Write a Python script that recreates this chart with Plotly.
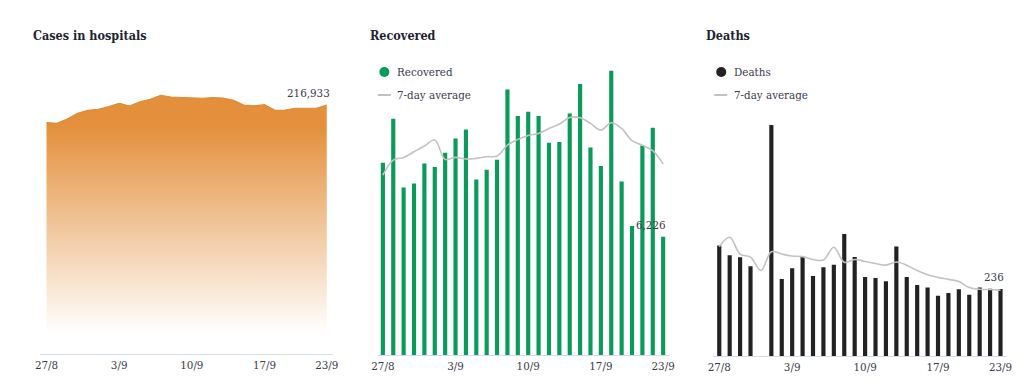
import plotly.graph_objects as go

# ---------------- data ----------------
dates = ["27/8", "28/8", "29/8", "30/8", "31/8"] + [f"{d}/9" for d in range(1, 24)]
tick_labels = ["27/8", "3/9", "10/9", "17/9", "23/9"]

hospital = [201548, 201006, 204760, 209700, 212300, 213200, 215500, 218400, 216100,
            219800, 221900, 225400, 223900, 223600, 223600, 222800, 223300, 223000,
            221000, 216900, 216100, 217200, 212300, 212600, 214100, 214300, 214100, 216933]

recovered = [10109, 12418, 8815, 9025, 10074, 9882, 10634, 11386, 11858, 9235, 9742,
             10267, 13957, 12558, 12785, 12558, 11159, 11194, 12698, 14237, 10914, 9934,
             14936, 9130, 6786, 11019, 11946, 6226]
recovered_avg = [9462, 10249, 10389, 10686, 10984, 11299, 10284, 10389, 10302, 10337,
                 10424, 10459, 11036, 11334, 11543, 11648, 11911, 12138, 12488, 12470,
                 12173, 11823, 12208, 11911, 11264, 11019, 10739, 10039]

deaths = [389, 355, 348, 316, None, 814, 271, 309, 350, 282, 313, 321, 430, 349, 278,
          275, 263, 386, 278, 250, 241, 212, 222, 235, 216, 241, 237, 236]
deaths_avg = [385, 418, 359, 348, 301, 367, 359, 352, 350, 340, 338, 383, 330, 340, 333,
              326, 320, 331, 320, 301, 286, 277, 270, 262, 241, 235, 234, 232]

titles = ["Cases in hospitals", "Recovered", "Deaths"]
legend_names = [["Recovered", "7-day average"], ["Deaths", "7-day average"]]

# ---------------- styling ----------------
# page body has an 8px margin, so the figure is 16px smaller than the window;
# the photographed page is also slightly squeezed horizontally about its centre.
OFF = 8
SQUEEZE = 0.987
W, H = 1024 - 2 * OFF, 387 - 2 * OFF
ORANGE = "#e38f3b"
GREEN = "#0a9a5a"
BLACK = "#222222"
GREY = "#c2c2c2"
AXIS = "#d3dbec"
TEXT = "#3a3a48"
SERIF = "DejaVu Serif Condensed, DejaVu Serif"


def fx(px):
    px = 512 + (px - 512) / SQUEEZE
    return (px - OFF) / W


def fy(py):
    return 1 - (py - OFF) / H


fig = go.Figure()

# panel 1: hospitals area
fig.add_trace(go.Scatter(
    x=dates, y=hospital, mode="lines", line=dict(color="#df8a34", width=1.2),
    fill="tozeroy",
    fillgradient=dict(type="vertical",
                      colorscale=[[0, "rgba(255,255,255,1)"], [1, ORANGE]],
                      start=18000, stop=200000),
    xaxis="x", yaxis="y", showlegend=False, name=titles[0]))

# panel 2: recovered
fig.add_trace(go.Bar(x=dates, y=recovered, marker=dict(color=GREEN, line=dict(width=0)),
                     width=0.4, xaxis="x2", yaxis="y2", showlegend=False, name=legend_names[0][0]))
fig.add_trace(go.Scatter(x=dates, y=recovered_avg, mode="lines",
                         line=dict(color=GREY, width=1.6, shape="spline"),
                         xaxis="x2", yaxis="y2", showlegend=False, name=legend_names[0][1]))

# panel 3: deaths
fig.add_trace(go.Bar(x=dates, y=deaths, marker=dict(color=BLACK, line=dict(width=0)),
                     width=0.4, xaxis="x3", yaxis="y3", showlegend=False, name=legend_names[1][0]))
fig.add_trace(go.Scatter(x=dates, y=deaths_avg, mode="lines",
                         line=dict(color=GREY, width=1.6, shape="spline"),
                         xaxis="x3", yaxis="y3", showlegend=False, name=legend_names[1][1]))

# axes: (x-domain px, baseline px, y-range max, value per px)
panels = [
    (41, 333, 354.3, 250000, 216933 / 249.3),
    (377, 669, 355.3, 15500, 6226 / 118.6),
    (713, 1006, 356.0, 900, 236 / 67.0),
]
layout_axes = {}
for i, (x0, x1, base, ymax, vpp) in enumerate(panels):
    sfx = "" if i == 0 else str(i + 1)
    top = base - ymax / vpp
    layout_axes["xaxis" + sfx] = dict(
        domain=[fx(x0), fx(x1)], type="category", range=[-0.58, 27.58],
        tickvals=tick_labels, ticktext=tick_labels, showgrid=False, zeroline=False,
        showline=True, linecolor=AXIS, linewidth=1, ticks="",
        tickfont=dict(family=SERIF, size=11.5, color=TEXT),
        anchor="y" + sfx, fixedrange=True)
    layout_axes["yaxis" + sfx] = dict(
        domain=[fy(base), fy(top)], range=[0, ymax], visible=False,
        anchor="x" + sfx, fixedrange=True)

fig.update_layout(**layout_axes)

annotations = []
shapes = []
# titles
for xpx, t in zip([32, 368, 704], titles):
    annotations.append(dict(text=f"<b>{t}</b>", x=fx(xpx), y=fy(36), xref="paper", yref="paper",
                            xanchor="left", yanchor="middle", showarrow=False,
                            font=dict(family=SERIF, size=12.5, color="#222230")))

# legends
for (cx, lx0, tx), names, col in [((384.5, 378, 395), legend_names[0], GREEN),
                                   ((721, 714, 732), legend_names[1], BLACK)]:
    shapes.append(dict(type="circle", xref="paper", yref="paper",
                       x0=fx(cx - 5), x1=fx(cx + 5), y0=fy(72 + 5), y1=fy(72 - 5),
                       fillcolor=col, line=dict(width=0)))
    shapes.append(dict(type="line", xref="paper", yref="paper",
                       x0=fx(lx0), x1=fx(lx0 + 13), y0=fy(95), y1=fy(95),
                       line=dict(color=GREY, width=2)))
    for ty, nm in zip([72, 95], names):
        annotations.append(dict(text=nm, x=fx(tx), y=fy(ty), xref="paper", yref="paper",
                                xanchor="left", yanchor="middle", showarrow=False,
                                font=dict(family=SERIF, size=11.5, color=TEXT)))

# last-value labels
for sfx, series in [("", hospital), ("2", recovered), ("3", deaths)]:
    annotations.append(dict(text=f"{series[-1]:,}", x=dates[-1], y=series[-1],
                            xref="x" + sfx, yref="y" + sfx, xanchor="right", yanchor="bottom",
                            xshift=5, yshift=3, showarrow=False,
                            font=dict(family=SERIF, size=11.5, color=TEXT)))

fig.update_layout(
    width=W, height=H, margin=dict(l=0, r=0, t=0, b=0),
    paper_bgcolor="white", plot_bgcolor="white",
    annotations=annotations, shapes=shapes, bargap=0.6,
    showlegend=False,
)

fig.write_html("out.html")
